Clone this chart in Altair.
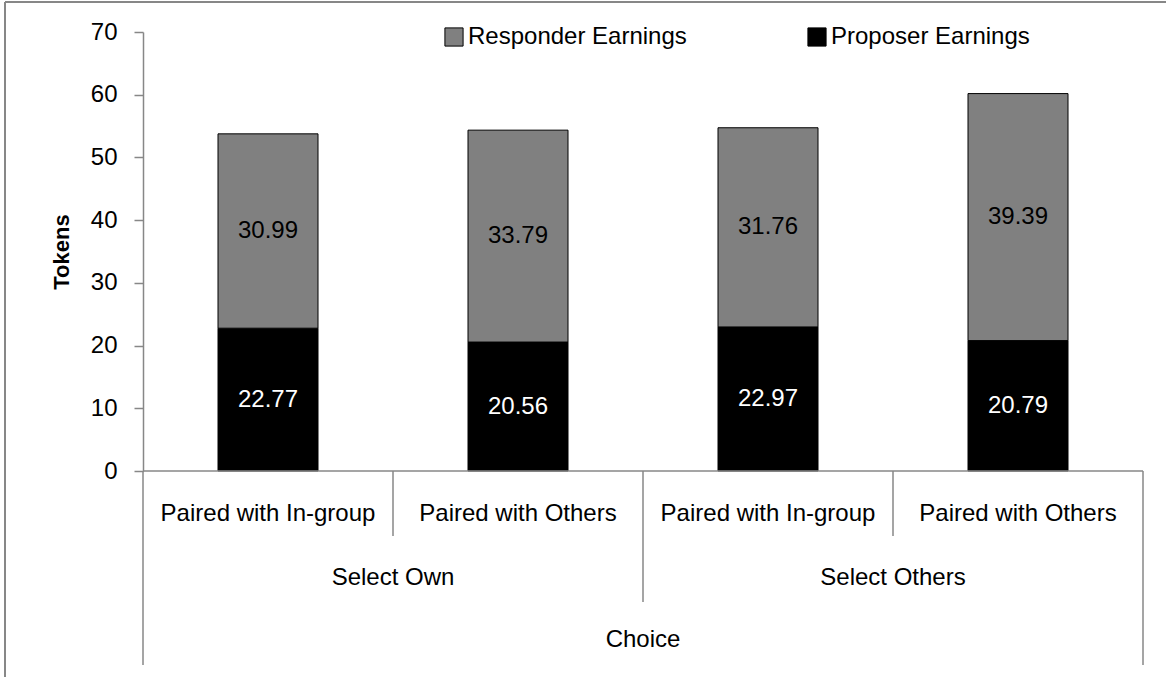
import altair as alt
import pandas as pd

# ---- data ----
groups = ["Select Own", "Select Own", "Select Others", "Select Others"]
categories = ["Paired with In-group", "Paired with Others", "Paired with In-group", "Paired with Others"]
proposer = [22.77, 20.56, 22.97, 20.79]
responder = [30.99, 33.79, 31.76, 39.39]
series_names = ["Responder Earnings", "Proposer Earnings"]
series_colors = ["#808080", "#000000"]
y_ticks = [0, 10, 20, 30, 40, 50, 60, 70]
y_title = "Tokens"
outer_title = "Choice"

FONT = "Liberation Sans"
GRAY = "#878787"
FS = 24

ids = [f"{g}|{c}" for g, c in zip(groups, categories)]
n = len(ids)

rows = []
for gid, p, r in zip(ids, proposer, responder):
    rows.append(dict(id=gid, series="Proposer Earnings", y0=0.0, y1=p, value=p))
    rows.append(dict(id=gid, series="Responder Earnings", y0=p, y1=p + r, value=r))
bars_df = pd.DataFrame(rows)

cat_df = pd.DataFrame({"id": ids, "category": categories})
grp_df = (pd.DataFrame({"group": groups, "idx": range(n)})
          .groupby("group", sort=False)["idx"].agg(["min", "max"]).reset_index())
grp_df["center"] = (grp_df["min"] + grp_df["max"] + 1) / 2

inner_b = [i for i in range(1, n) if groups[i] == groups[i - 1]]
group_b = [i for i in range(1, n) if groups[i] != groups[i - 1]]
outer_b = [0, n]

# ---- main (band) layer ----
xband = alt.X("id:N", sort=ids, axis=None,
              scale=alt.Scale(paddingInner=0.6, paddingOuter=0.3))
yscale = alt.Scale(domain=[0, 70], nice=False)

yaxis = alt.Axis(values=y_ticks, title=y_title, grid=False,
                 titleFont=FONT, titleFontSize=22, titleFontWeight="bold", titleColor="black",
                 titleAngle=270, titleX=-75, titleY=219.5, titleBaseline="alphabetic",
                 titleAlign="center",
                 labelFont=FONT, labelFontSize=FS, labelColor="black", labelPadding=17,
                 tickSize=9, tickColor=GRAY, tickWidth=1.5,
                 domainColor=GRAY, domainWidth=1.5)

bars = alt.Chart(bars_df).mark_bar(stroke="black", strokeWidth=1).encode(
    x=xband,
    y=alt.Y("y0:Q", scale=yscale, axis=yaxis),
    y2="y1:Q",
    color=alt.Color("series:N",
                    scale=alt.Scale(domain=series_names, range=series_colors),
                    legend=alt.Legend(title=None, orient="none", legendX=299, legendY=-7,
                                      direction="horizontal", columns=2,
                                      symbolType="square", symbolSize=330,
                                      symbolStrokeColor="black", symbolStrokeWidth=1,
                                      symbolOpacity=1,
                                      labelFont=FONT, labelFontSize=FS, labelColor="black",
                                      labelLimit=500, labelOffset=2, columnPadding=118,
                                      padding=0)),
)

base_txt = alt.Chart(bars_df).transform_calculate(mid="(datum.y0 + datum.y1) / 2")
txt_black = base_txt.transform_filter(alt.datum.series == "Responder Earnings").mark_text(
    font=FONT, fontSize=FS, color="black", baseline="middle").encode(
    x=xband, y=alt.Y("mid:Q", scale=yscale), text=alt.Text("value:Q", format=".2f"))
txt_white = base_txt.transform_filter(alt.datum.series == "Proposer Earnings").mark_text(
    font=FONT, fontSize=FS, color="white", baseline="middle").encode(
    x=xband, y=alt.Y("mid:Q", scale=yscale), text=alt.Text("value:Q", format=".2f"))

cat_labels = alt.Chart(cat_df).mark_text(font=FONT, fontSize=FS, color="black",
                                         baseline="middle").encode(
    x=xband, y=alt.value(482), text="category:N")

main = alt.layer(bars, txt_black, txt_white, cat_labels)

# ---- annotation (continuous) layer ----
qscale = alt.Scale(domain=[0, n], nice=False, zero=False)


def xq(field):
    return alt.X(field, scale=qscale, axis=None)


inner_rules = alt.Chart(pd.DataFrame({"b": inner_b})).mark_rule(color=GRAY, strokeWidth=1.5).encode(
    x=xq("b:Q"), y=alt.value(439), y2=alt.value(504))
group_rules = alt.Chart(pd.DataFrame({"b": group_b})).mark_rule(color=GRAY, strokeWidth=1.5).encode(
    x=xq("b:Q"), y=alt.value(439), y2=alt.value(570))
outer_rules = alt.Chart(pd.DataFrame({"b": outer_b})).mark_rule(color=GRAY, strokeWidth=1.5).encode(
    x=xq("b:Q"), y=alt.value(439), y2=alt.value(633))
baseline = alt.Chart(pd.DataFrame({"b": [0], "b2": [n]})).mark_rule(color=GRAY, strokeWidth=1.5).encode(
    x=xq("b:Q"), x2="b2:Q", y=alt.value(439))

grp_labels = alt.Chart(grp_df).mark_text(font=FONT, fontSize=FS, color="black",
                                         baseline="middle").encode(
    x=xq("center:Q"), y=alt.value(546), text="group:N")
choice_lbl = alt.Chart(pd.DataFrame({"c": [n / 2], "t": [outer_title]})).mark_text(
    font=FONT, fontSize=FS, color="black", baseline="middle").encode(
    x=xq("c:Q"), y=alt.value(608), text="t:N")

frame_left = alt.Chart(pd.DataFrame({"a": [0]})).mark_rule(color=GRAY, strokeWidth=2).encode(
    x=alt.value(-138), y=alt.value(-30), y2=alt.value(660))
frame_top = alt.Chart(pd.DataFrame({"a": [0]})).mark_rule(color=GRAY, strokeWidth=2).encode(
    x=alt.value(-138), x2=alt.value(1040), y=alt.value(-30))

annot = alt.layer(inner_rules, group_rules, outer_rules, grp_labels, choice_lbl,
                  frame_left, frame_top, baseline)

chart = (alt.layer(main, annot)
         .resolve_scale(x="independent")
         .properties(width=1000, height=439, autosize=alt.AutoSizeParams(type="none"),
                     padding={"left": 143, "top": 32, "right": 23, "bottom": 206},
                     background="white")
         .configure_view(stroke=None))

chart.save("out.html", embed_options={"renderer": "svg", "actions": False})
